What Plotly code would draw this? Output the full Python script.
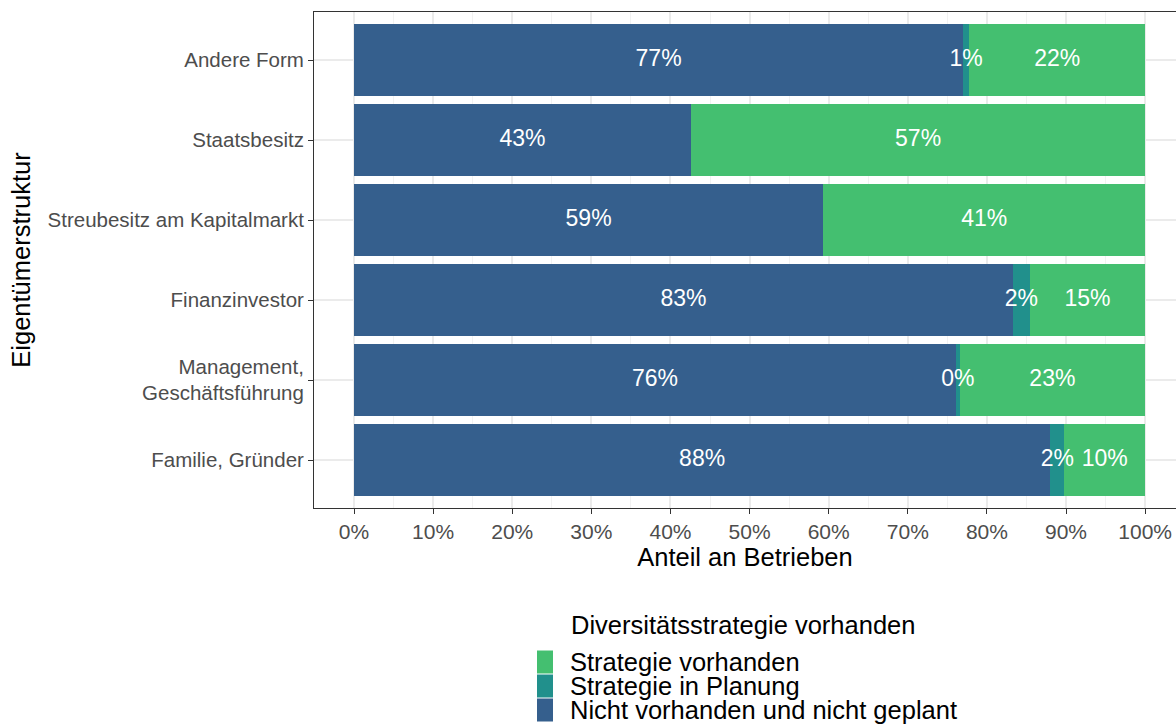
import plotly.graph_objects as go

# ---- data (bottom to top) ----
categories = [
    "Familie, Gründer",
    "Management,<br>Geschäftsführung",
    "Finanzinvestor",
    "Streubesitz am Kapitalmarkt",
    "Staatsbesitz",
    "Andere Form",
]
nicht_vorhanden = [88.0, 76.1, 83.3, 59.3, 42.6, 77.0]
in_planung = [1.8, 0.45, 2.1, None, None, 0.76]
vorhanden = [10.2, 23.45, 14.6, 40.7, 57.4, 22.24]

series_names = ["Nicht vorhanden und nicht geplant", "Strategie in Planung", "Strategie vorhanden"]
series_colors = ["#355F8D", "#21908C", "#44BF70"]
series_values = [nicht_vorhanden, in_planung, vorhanden]

x_ticks = [0, 10, 20, 30, 40, 50, 60, 70, 80, 90, 100]
x_tick_labels = [f"{t}%" for t in x_ticks]

FONT = "Liberation Sans, Arial, sans-serif"

fig = go.Figure()

# stacked bars
for name, color, vals in zip(series_names, series_colors, series_values):
    fig.add_trace(go.Bar(
        y=categories, x=[v if v is not None else 0 for v in vals],
        orientation="h", name=name, marker=dict(color=color, line=dict(width=0)),
        showlegend=False, hoverinfo="x+y+name",
    ))

# segment labels centred in each segment
lx, ly, lt = [], [], []
for i, cat in enumerate(categories):
    left = 0.0
    for vals in series_values:
        v = vals[i]
        if v is None:
            continue
        lx.append(left + v / 2)
        ly.append(cat)
        lt.append(f"{round(v)}%")
        left += v
fig.add_trace(go.Scatter(
    x=lx, y=ly, text=lt, mode="text", showlegend=False, hoverinfo="skip",
    textfont=dict(color="white", size=23, family=FONT),
))

# plot area geometry (pixels)
W, H = 1176, 725
L, T, B = 314, 12, 508

fig.update_layout(
    width=W, height=H,
    margin=dict(l=L, r=0, t=T, b=H - B, autoexpand=False),
    barmode="stack", bargap=0.1,
    plot_bgcolor="white", paper_bgcolor="white",
    font=dict(family=FONT, color="#000000"),
    showlegend=False,
)
fig.update_xaxes(
    range=[-5.06, 103.9], tickvals=x_ticks, ticktext=x_tick_labels,
    tickfont=dict(size=21, color="#4D4D4D", family=FONT),
    showgrid=True, gridcolor="#EBEBEB", gridwidth=1.5,
    minor=dict(tickmode="linear", tick0=5, dtick=10, showgrid=True, gridcolor="#F2F2F2", gridwidth=1, ticks=""),
    showline=True, mirror=True, linecolor="#333333", linewidth=1,
    ticks="outside", ticklen=5, tickcolor="#333333", zeroline=False,
    title=dict(text="Anteil an Betrieben", font=dict(size=25.5, color="#000000", family=FONT), standoff=2),
)
fig.update_yaxes(
    type="category", categoryorder="array", categoryarray=categories,
    range=[-0.6, 5.6],
    tickfont=dict(size=20.5, color="#4D4D4D", family=FONT),
    showgrid=True, gridcolor="#EBEBEB", gridwidth=1.5,
    showline=True, mirror=False, linecolor="#333333", linewidth=1,
    ticks="outside", ticklen=5, tickcolor="#333333", zeroline=False,
    title=dict(text="Eigentümerstruktur", font=dict(size=25.5, color="#000000", family=FONT), standoff=9),
)

def px_x(X):
    return (X - L) / (W - L)

def px_y(Y):
    return (B - Y) / (B - T)

# manual legend (tight spacing like the reference)
fig.add_annotation(
    text="Diversitätsstrategie vorhanden", xref="paper", yref="paper",
    x=px_x(743), y=px_y(625), xanchor="center", yanchor="middle", showarrow=False,
    font=dict(size=25.5, color="#000000", family=FONT),
)
legend_rows = [(series_names[2], series_colors[2], 662),
               (series_names[1], series_colors[1], 686),
               (series_names[0], series_colors[0], 710)]
for name, color, yc in legend_rows:
    fig.add_shape(type="rect", xref="paper", yref="paper",
                  x0=px_x(537), x1=px_x(553), y0=px_y(yc - 11.5), y1=px_y(yc + 11.5),
                  fillcolor=color, line=dict(width=0))
    fig.add_annotation(
        text=name, xref="paper", yref="paper", x=px_x(568), y=px_y(yc),
        xanchor="left", yanchor="middle", showarrow=False,
        font=dict(size=25.5, color="#000000", family=FONT),
    )

fig.write_html(
    "out.html",
    config={"displayModeBar": False},
    post_script="document.body.style.margin='0';document.body.style.overflow='hidden';",
)
